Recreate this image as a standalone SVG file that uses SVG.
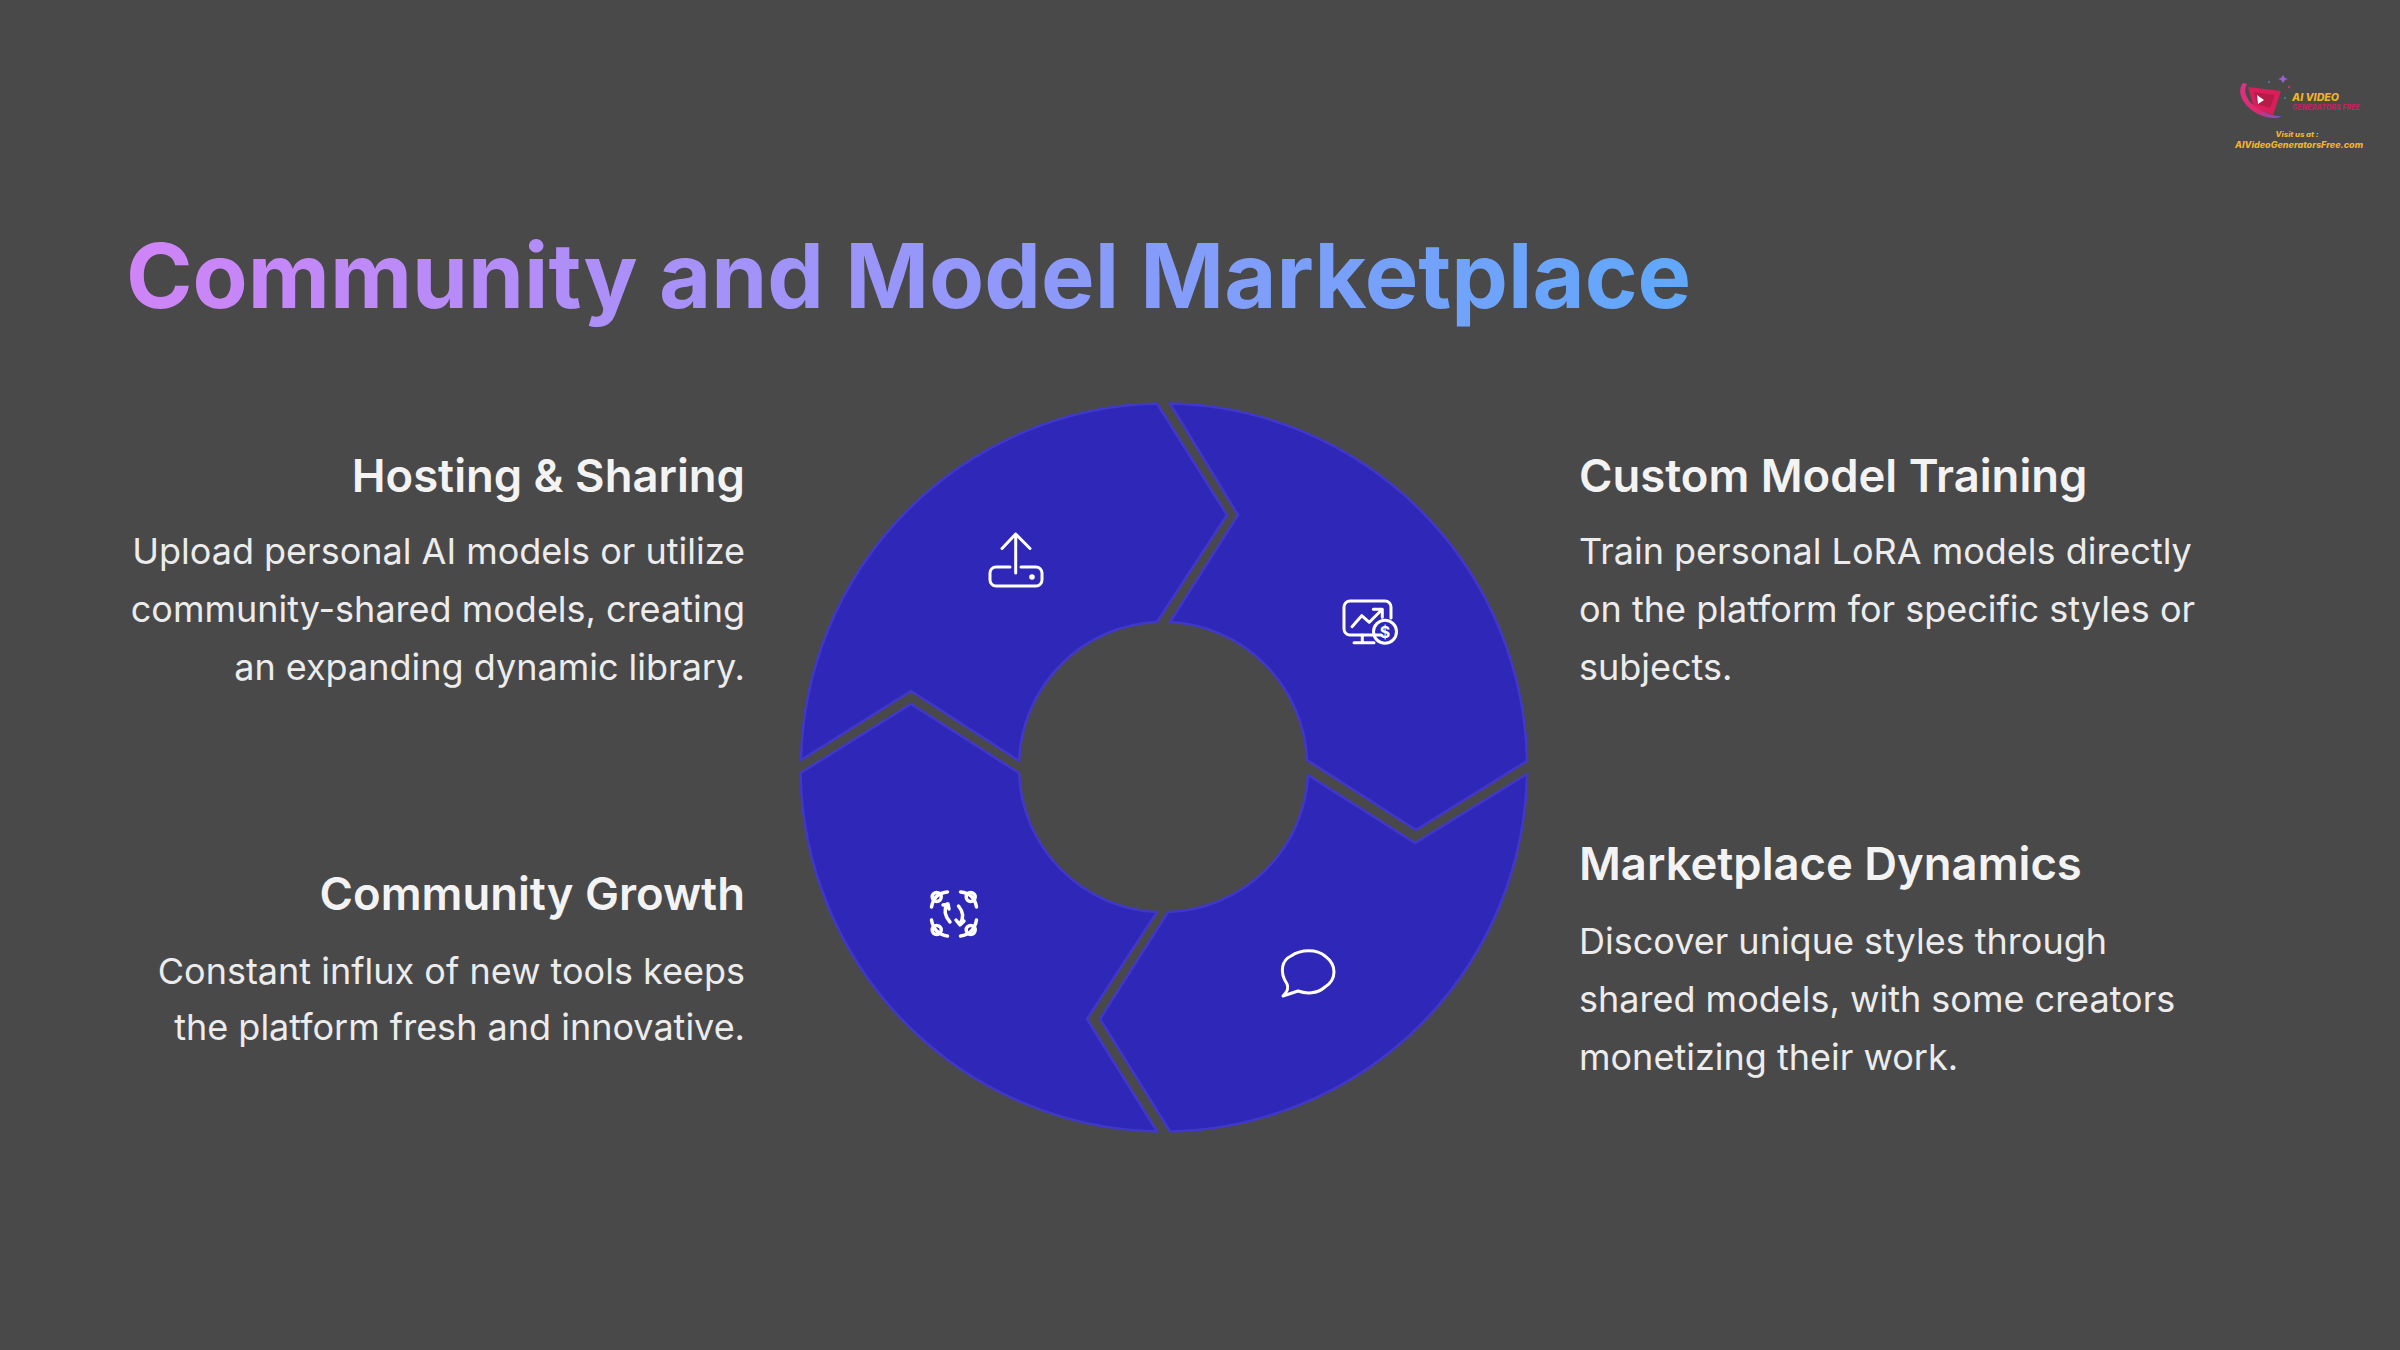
<svg xmlns="http://www.w3.org/2000/svg" width="2400" height="1350" viewBox="0 0 2400 1350">
<defs>
<linearGradient id="tg" gradientUnits="userSpaceOnUse" x1="127" y1="0" x2="1690" y2="0"><stop offset="0" stop-color="#cf84f7"/><stop offset="1" stop-color="#60a8fb"/></linearGradient>
<linearGradient id="lg" x1="0" y1="0" x2="1" y2="1"><stop offset="0" stop-color="#e0328a"/><stop offset="0.6" stop-color="#e0286e"/><stop offset="1" stop-color="#6a5ad0"/></linearGradient>
</defs>
<style>
text{font-family:Inter,"Liberation Sans",sans-serif}
.seg{fill:#2e27b7;stroke:#4038cb;stroke-width:2.500;stroke-linejoin:miter}
.ic{fill:none;stroke:#fff;stroke-width:3;stroke-linecap:round;stroke-linejoin:round}
.h{font-size:45.400px;font-weight:600;fill:#f3f3f3}
.b{font-size:36px;font-weight:400;fill:#ececec}
.r{text-anchor:end}
.lt{font-weight:800;font-style:italic}
</style>
<rect width="2400" height="1350" fill="#4a4949"/>
<text id="title" x="126" y="308" font-size="90" font-weight="700" fill="url(#tg)">Community and Model Marketplace</text>
<g id="node-hosting">
<path class="seg" d="M1157 403.500L1227 515L1157 622A144.500 144.500 0 0 0 1019 761L911 691L801 760A364.500 364.500 0 0 1 1157 403.500Z"/>
<g class="ic"><path d="M1015.700 534V573M1002 548.500L1015.700 534L1030 548.500"/><path d="M1010 567H996A6 6 0 0 0 990 573V580A6 6 0 0 0 996 586H1036A6 6 0 0 0 1042 580V573A6 6 0 0 0 1036 567H1021"/></g>
<circle cx="1032" cy="577" r="2.800" fill="#fff"/>
<text class="h r" x="745" y="492">Hosting &amp; Sharing</text>
<text class="b r" x="745" y="564">Upload personal AI models or utilize</text>
<text class="b r" x="745" y="622">community-shared models, creating</text>
<text class="b r" x="745" y="680">an expanding dynamic library.</text>
</g>
<g id="node-training">
<path class="seg" d="M1170 403.500A364.500 364.500 0 0 1 1527 761L1416 830L1307 760A144.500 144.500 0 0 0 1170 622L1238 515Z"/>
<g class="ic"><path d="M1381 635H1350A6 6 0 0 1 1344 629V607A6 6 0 0 1 1350 601H1385A6 6 0 0 1 1391 607V618"/><path d="M1352 626.700L1361.700 615.700L1369.300 622.300L1382.300 609.300M1373.300 609.300H1382.300V617.300M1362.300 635V642.700M1354 642.700H1374"/><circle cx="1385" cy="631.700" r="11.500"/></g>
<text x="1385" y="637.500" font-size="16" font-weight="700" fill="#fff" text-anchor="middle">$</text>
<text class="h" x="1579" y="492">Custom Model Training</text>
<text class="b" x="1579" y="564">Train personal LoRA models directly</text>
<text class="b" x="1579" y="622">on the platform for specific styles or</text>
<text class="b" x="1579" y="680">subjects.</text>
</g>
<g id="node-marketplace">
<path class="seg" d="M1527 774A364.500 364.500 0 0 1 1170 1131.500L1100 1019L1168 912A144.500 144.500 0 0 0 1308 775L1415 843Z"/>
<path class="ic" d="M1287 984C1279 972 1282 960 1291 956C1301 949 1317 949 1325 956C1337 965 1337 979 1325 987C1317 994 1306 994 1298 991L1283 996C1287 992 1289 988 1287 984Z"/>
<text class="h" x="1579" y="880">Marketplace Dynamics</text>
<text class="b" x="1579" y="954">Discover unique styles through</text>
<text class="b" x="1579" y="1012">shared models, with some creators</text>
<text class="b" x="1579" y="1070">monetizing their work.</text>
</g>
<g id="node-community">
<path class="seg" d="M800.500 773L911 704L1019 773A144.500 144.500 0 0 0 1157 912L1087 1019L1157 1131.500A364.500 364.500 0 0 1 800.500 773Z"/>
<g class="ic" style="stroke-width:3.500"><circle cx="936.700" cy="897" r="4.500"/><circle cx="970.700" cy="897" r="4.500"/><circle cx="936.700" cy="930" r="4.500"/><circle cx="970.700" cy="930" r="4.500"/>
<path d="M947.500 892Q934 893 931.500 907M960.500 892Q974 893 976.500 907M931.500 920Q934 934 947.500 936M976.500 920Q974 934 960.500 936"/>
<path d="M950 922Q942 913 947 904M943 905L948 904L949 909M958.500 906Q966 915 960 924M956 920L960 925L964 921"/></g>
<text class="h r" x="745" y="910">Community Growth</text>
<text class="b r" x="745" y="984">Constant influx of new tools keeps</text>
<text class="b r" x="745" y="1040">the platform fresh and innovative.</text>
</g>
<g id="logo">
<path d="M2248 87L2281 91L2273 115L2254 108Z" fill="#d81f5c"/>
<path d="M2254 92L2275 95L2270 108L2257 104Z" fill="#b81b48"/>
<path d="M2257 95L2264 100L2258 104Z" fill="#fff"/>
<path d="M2243 83C2236 92 2243 106 2258 114C2268 119 2278 119 2282 116C2276 117 2262 113 2252 104C2246 98 2243 90 2247 84Z" fill="url(#lg)"/>
<path d="M2283 75L2285 78L2288 79L2285 80L2283 83L2281 80L2278 79L2281 78Z" fill="#9b5fd6"/>
<circle cx="2289" cy="87" r="1.200" fill="#e0286e"/><circle cx="2269" cy="82" r="1" fill="#3b8ac4"/><circle cx="2285" cy="98" r="1" fill="#3b8ac4"/>
<text class="lt" x="2292" y="101" font-size="10" fill="#f0b429" textLength="47" lengthAdjust="spacingAndGlyphs">AI VIDEO</text>
<text class="lt" x="2292" y="110" font-size="7.500" fill="#c0245c" textLength="68" lengthAdjust="spacingAndGlyphs">GENERATORS FREE</text>
<text class="lt" x="2297" y="137" font-size="7" fill="#f0b429" text-anchor="middle" textLength="43" lengthAdjust="spacingAndGlyphs">Visit us at :</text>
<text class="lt" x="2299" y="148" font-size="8.500" fill="#f0b429" text-anchor="middle" textLength="128" lengthAdjust="spacingAndGlyphs">AIVideoGeneratorsFree.com</text>
</g>
<g id="connectors"/>
</svg>
